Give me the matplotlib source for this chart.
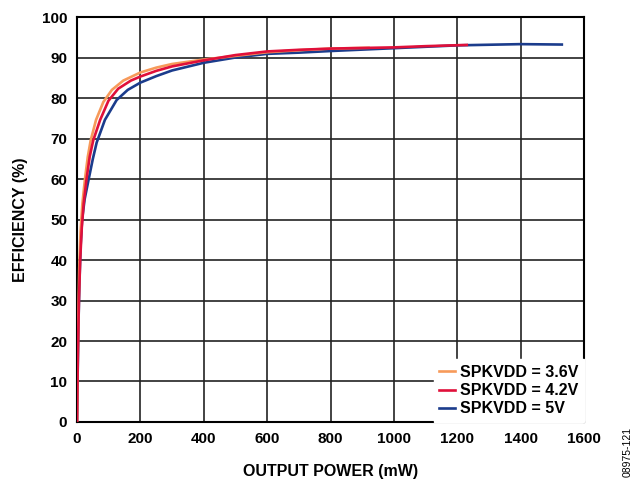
import matplotlib
matplotlib.use('Agg')
import matplotlib.pyplot as plt

plt.rcParams['font.family'] = ['Liberation Sans', 'DejaVu Sans']
plt.rcParams['font.weight'] = 'bold'

# SPKVDD = 3.6V
p_36 = [0, 1, 2, 4, 7, 11, 17, 25, 34, 43, 60, 83, 110, 146, 200, 250, 300,
        400, 500, 600, 700, 800, 920]
eff_36 = [0, 8, 15, 26, 38, 47, 54, 60, 65.5, 69.5, 74.6, 79, 82, 84.3, 86.3, 87.5, 88.4,
          89.5, 90.4, 91.3, 91.8, 92.2, 92.4]

# SPKVDD = 4.2V
p_42 = [0, 1, 3, 6, 10, 15, 21, 30, 40, 51, 73, 99, 130, 170, 200, 250, 300,
        400, 500, 600, 700, 800, 1000, 1100, 1230]
eff_42 = [0, 7, 18, 30, 40, 48, 54, 60, 65.5, 69.5, 74.6, 79.3, 82.3, 84.3, 85.3, 86.7, 87.8,
          89.3, 90.6, 91.5, 91.9, 92.2, 92.5, 92.8, 93.1]

# SPKVDD = 5V
p_5 = [0, 2, 4, 7, 11, 16, 24, 39, 50, 62, 88, 125, 160, 200, 250, 300,
       400, 500, 600, 700, 800, 1000, 1200, 1400, 1530]
eff_5 = [0, 12, 22, 33, 43, 50, 55, 60.8, 65, 69, 74.6, 79.5, 82, 83.8, 85.4, 86.8,
         88.7, 90, 90.9, 91.2, 91.6, 92.3, 93, 93.3, 93.2]

labels = ['SPKVDD = 3.6V', 'SPKVDD = 4.2V', 'SPKVDD = 5V']
colors = ['#F79A5A', '#E0103A', '#1B3C8C']

fig = plt.figure(figsize=(6.35, 4.79), dpi=100)
ax = fig.add_axes([0.1213, 0.119, 0.7984, 0.8455])

ax.plot(p_5, eff_5, color=colors[2], lw=1.9, label=labels[2], zorder=2)
ax.plot(p_36, eff_36, color=colors[0], lw=1.9, label=labels[0], zorder=3)
ax.plot(p_42, eff_42, color=colors[1], lw=1.9, label=labels[1], zorder=4)

ax.set_xlim(0, 1600)
ax.set_ylim(0, 100)
ax.set_xticks(range(0, 1601, 200))
ax.set_yticks(range(0, 101, 10))
ax.grid(True, color='#222222', lw=1.2)
ax.tick_params(length=0, labelsize=11, pad=7)
for s in ax.spines.values():
    s.set_linewidth(1.5)
    s.set_color('black')

ax.set_xlabel('OUTPUT POWER (mW)', fontsize=11.5, fontweight='bold', labelpad=13)
ax.set_ylabel('EFFICIENCY (%)', fontsize=11.5, fontweight='bold', labelpad=10)

handles, lbls = ax.get_legend_handles_labels()
order = [lbls.index(l) for l in labels]
leg = ax.legend([handles[i] for i in order], [lbls[i] for i in order],
                loc='lower right', fontsize=11.5, frameon=True, fancybox=False,
                borderaxespad=0, handlelength=1.0, handletextpad=0.3,
                labelspacing=0.2, borderpad=0.35)
leg.get_frame().set_edgecolor('white')
leg.get_frame().set_alpha(1)
for t in leg.get_texts():
    t.set_fontweight('bold')

fig.text(0.988, 0.056, '08975-121', rotation=90, fontsize=7.5, fontweight='normal',
         ha='center', va='center')

fig.savefig('out.png', dpi=100)
